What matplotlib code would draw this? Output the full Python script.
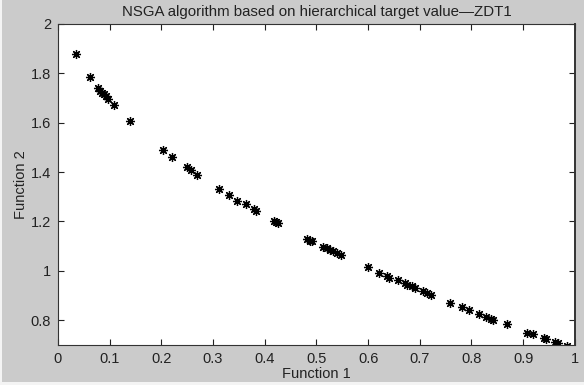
import matplotlib
matplotlib.use("Agg")
import matplotlib.pyplot as plt
from matplotlib.patches import Rectangle
import numpy as np

# Pareto front points (ZDT1)
f1 = [0.035, 0.061, 0.078, 0.081, 0.086, 0.089, 0.092, 0.097, 0.108, 0.139,
      0.2025, 0.220, 0.249, 0.258, 0.269,
      0.312, 0.331, 0.347, 0.364, 0.379, 0.383, 0.418, 0.422, 0.425,
      0.482, 0.487, 0.491, 0.513, 0.520, 0.526, 0.533, 0.540, 0.547,
      0.600, 0.621, 0.637, 0.641, 0.657, 0.672, 0.675, 0.685, 0.691,
      0.706, 0.714, 0.722, 0.758, 0.781, 0.795, 0.814, 0.828, 0.837, 0.842,
      0.868, 0.908, 0.919, 0.940, 0.944, 0.961, 0.968, 0.984]
f2 = [1.878, 1.786, 1.739, 1.730, 1.722, 1.716, 1.706, 1.697, 1.670, 1.608,
      1.489, 1.462, 1.422, 1.408, 1.388,
      1.330, 1.307, 1.284, 1.270, 1.249, 1.244, 1.203, 1.197, 1.194,
      1.127, 1.122, 1.120, 1.097, 1.093, 1.086, 1.079, 1.072, 1.065,
      1.014, 0.992, 0.979, 0.973, 0.962, 0.949, 0.943, 0.938, 0.932,
      0.919, 0.911, 0.902, 0.870, 0.852, 0.841, 0.824, 0.814, 0.804, 0.800,
      0.784, 0.749, 0.743, 0.730, 0.726, 0.710, 0.706, 0.696]

x_ticks = np.arange(0, 1.01, 0.1)
y_ticks = [0.8, 1.0, 1.2, 1.4, 1.6, 1.8, 2.0]
y_labels = ["0.8", "1", "1.2", "1.4", "1.6", "1.8", "2"]
x_labels = ["0", "0.1", "0.2", "0.3", "0.4", "0.5", "0.6", "0.7", "0.8", "0.9", "1"]

plt.rcParams['font.family'] = ['Liberation Sans', 'DejaVu Sans']

fig = plt.figure(figsize=(5.84, 3.85), dpi=100, facecolor='#cbcbcb')
# thin light frame on the left and bottom, as in the screenshot
fig.patches.append(Rectangle((0, 0), 1, 0.008, transform=fig.transFigure,
                             facecolor='#f4f4f4', edgecolor='none'))
fig.patches.append(Rectangle((0, 0), 0.003, 1, transform=fig.transFigure,
                             facecolor='#f4f4f4', edgecolor='none'))

ax = fig.add_axes([0.0993, 0.104, 0.885, 0.834])

# MATLAB-style asterisk marker
ax.plot(f1, f2, linestyle='none', marker=(8, 2, 0), markersize=6.5,
        markeredgewidth=0.9, color='black')

ax.set_xlim(0, 1)
ax.set_ylim(0.7, 2)
ax.set_xticks(x_ticks)
ax.set_xticklabels(x_labels)
ax.set_yticks(y_ticks)
ax.set_yticklabels(y_labels)
ax.tick_params(direction='in', top=True, right=True, length=4, width=0.8,
               labelsize=10.5, colors='#222222', pad=5)
for sp in ax.spines.values():
    sp.set_color('#333333')
    sp.set_linewidth(0.8)
ax.spines['right'].set_linewidth(1.4)

ax.set_title('NSGA algorithm based on hierarchical target value\u2014ZDT1',
             fontsize=10.8, pad=6, color='#222222')
ax.set_xlabel('Function 1', fontsize=10.5, labelpad=1, color='#222222')
ax.set_ylabel('Function 2', fontsize=10.5, labelpad=2, color='#222222')

fig.savefig('out.png', dpi=100, facecolor=fig.get_facecolor())
